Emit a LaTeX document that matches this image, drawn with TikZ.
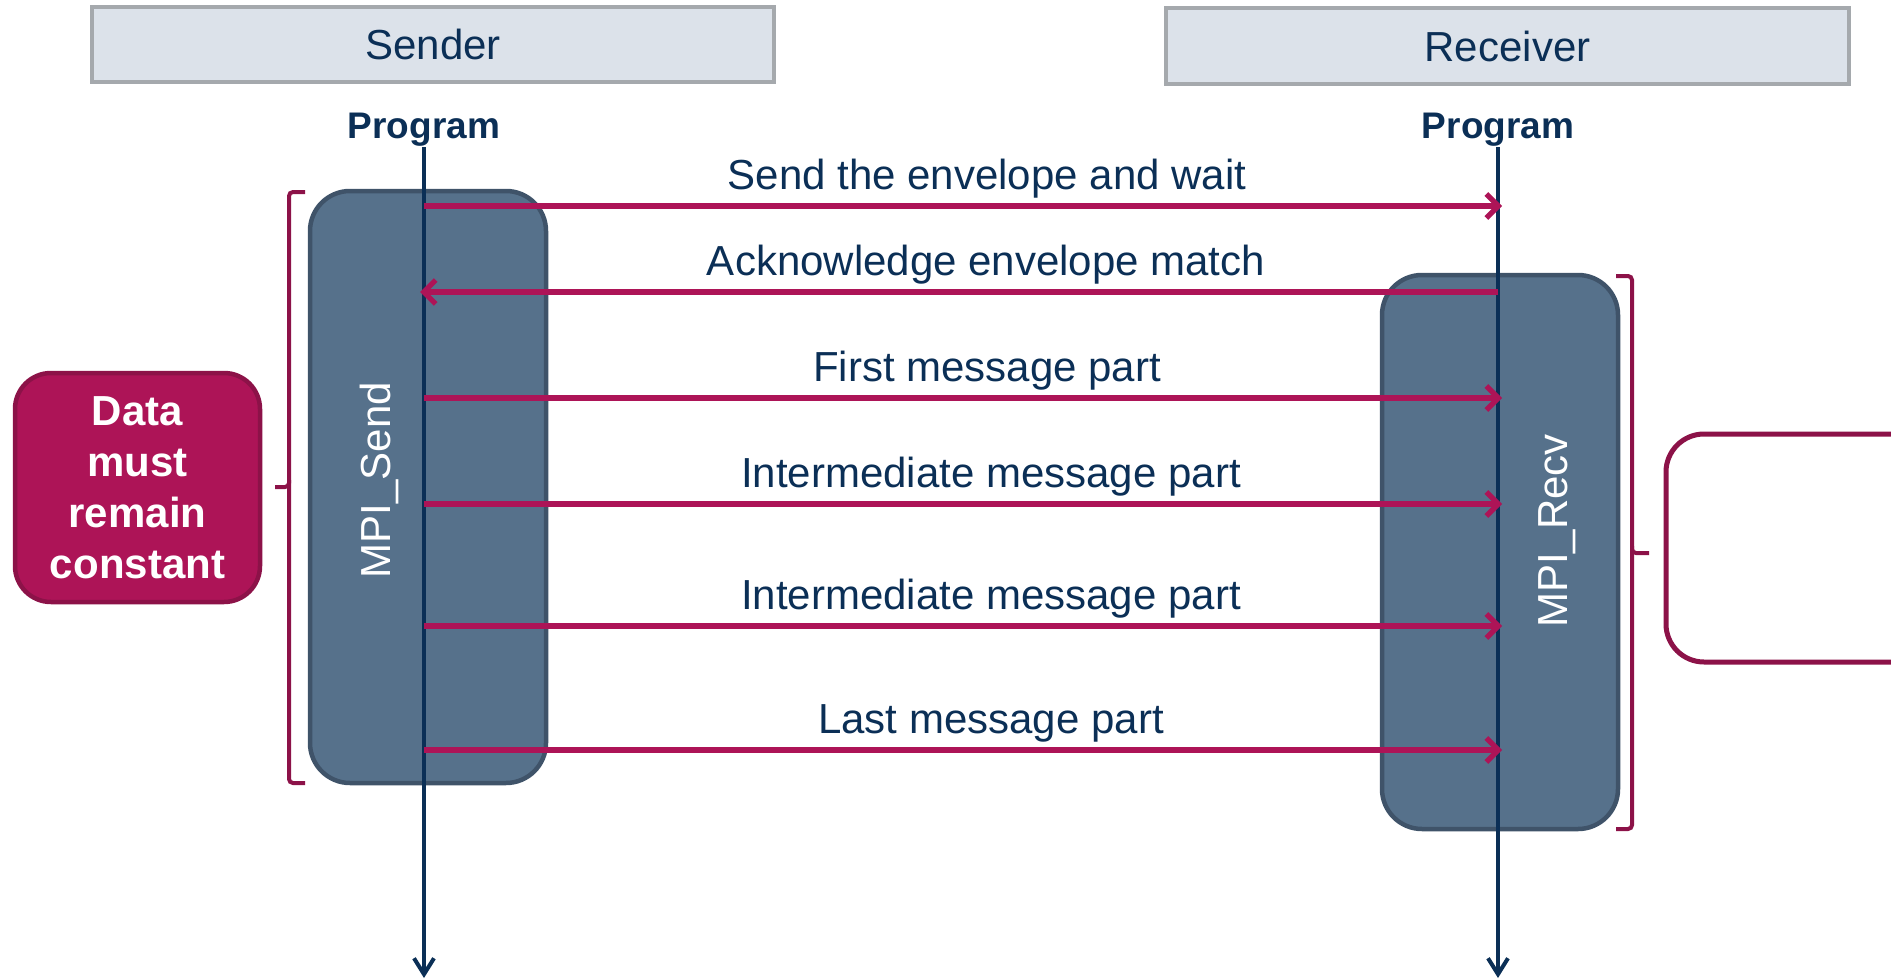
\documentclass[tikz,border=0pt]{standalone}
\usepackage{fontspec}
\setmainfont{Liberation Sans}
\usetikzlibrary{arrows.meta}
\definecolor{navy}{HTML}{0B2F56}
\definecolor{mag}{HTML}{AD1457}
\definecolor{magdark}{HTML}{8C1248}
\definecolor{hdrfill}{HTML}{DCE2EA}
\definecolor{hdrline}{HTML}{A5A9AD}
\definecolor{boxfill}{HTML}{56718B}
\definecolor{boxline}{HTML}{3F5369}
\newcommand\msgfont{\fontsize{42pt}{51pt}\selectfont}
\begin{document}
\begin{tikzpicture}[x=1pt,y=-1pt,
  hdr/.style={draw=hdrline, line width=4.5pt, fill=hdrfill, inner sep=0pt, text=navy, font=\msgfont},
  prog/.style={anchor=base, text=navy, font=\bfseries\fontsize{37pt}{44pt}\selectfont},
  actbox/.style={draw=boxline, line width=4.5pt, fill=boxfill, rounded corners=40pt, inner sep=0pt},
  actlbl/.style={rotate=90, anchor=base, text=white, font=\msgfont, inner sep=0pt},
  life/.style={draw=navy, line width=4pt, -{Straight Barb[length=16pt,width=20pt]}},
  msg/.style={draw=mag, line width=5.2pt, -{Straight Barb[length=12pt,width=24pt]}},
  lbl/.style={anchor=base, text=navy, font=\msgfont, inner sep=0pt},
  bracket/.style={draw=magdark, line width=4pt, rounded corners=4pt},
  databox/.style={draw=magdark, line width=4.5pt, fill=mag, rounded corners=36pt, text=white, align=center, font=\bfseries\msgfont, inner sep=0pt},
  notebox/.style={draw=magdark, line width=5pt, fill=white, rounded corners=38pt, inner sep=0pt}
]
\clip (0,0) rectangle (1891,980);
\useasboundingbox (0,0) rectangle (1891,980);

% headers
\node[hdr, minimum width=682pt, minimum height=75pt] (sender) at (433,44.5) {Sender};
\node[hdr, minimum width=683pt, minimum height=76pt] (receiver) at (1507.5,46) {Receiver};

% program labels
\node[prog] (progS) at (424,138) {Program};
\node[prog] (progR) at (1498,138) {Program};

% activation boxes
\node[actbox, minimum width=236pt, minimum height=592pt] (send) at (428,487) {};
\node[actbox, minimum width=236pt, minimum height=554pt] (recv) at (1500,552) {};
\node[actlbl] (sendlbl) at (390,480) {MPI\_Send};
\node[actlbl] (recvlbl) at (1567,531) {MPI\_Recv};

% lifelines
\coordinate (sTop) at (424,147);
\coordinate (sBot) at (424,978);
\coordinate (rTop) at (1498,147);
\coordinate (rBot) at (1498,978);
\draw[life] (sTop) -- (sBot);
\draw[life] (rTop) -- (rBot);

% message coordinates
\coordinate (s1) at (424,206);  \coordinate (r1) at (1502,206);
\coordinate (s2) at (420,292);  \coordinate (r2) at (1498,292);
\coordinate (s3) at (424,398);  \coordinate (r3) at (1502,398);
\coordinate (s4) at (424,504);  \coordinate (r4) at (1502,504);
\coordinate (s5) at (424,626);  \coordinate (r5) at (1502,626);
\coordinate (s6) at (424,750);  \coordinate (r6) at (1502,750);

\draw[msg] (s1) -- (r1);
\draw[msg] (r2) -- (s2);
\draw[msg] (s3) -- (r3);
\draw[msg] (s4) -- (r4);
\draw[msg] (s5) -- (r5);
\draw[msg] (s6) -- (r6);

\node[lbl] (m1) at (987,189) {Send the envelope and wait};
\node[lbl] (m2) at (986,275) {Acknowledge envelope match};
\node[lbl] (m3) at (987,381) {First message part};
\node[lbl] (m4) at (991,487) {Intermediate message part};
\node[lbl] (m5) at (991,609) {Intermediate message part};
\node[lbl] (m6) at (991,733) {Last message part};

% brackets
\draw[bracket] (305,192) -| (289,487) -- (275,487);
\draw[bracket] (289,480) |- (305,783);
\draw[bracket] (1616,276) -| (1632,553) -- (1649,553);
\draw[bracket] (1632,546) |- (1616,829);

% side boxes
\node[databox, minimum width=245pt, minimum height=229pt] (data) at (137.5,487.5) {Data\\must\\remain\\constant};
\node[notebox, minimum width=300pt, minimum height=228pt] (note) at (1816,548) {};
\end{tikzpicture}
\end{document}
